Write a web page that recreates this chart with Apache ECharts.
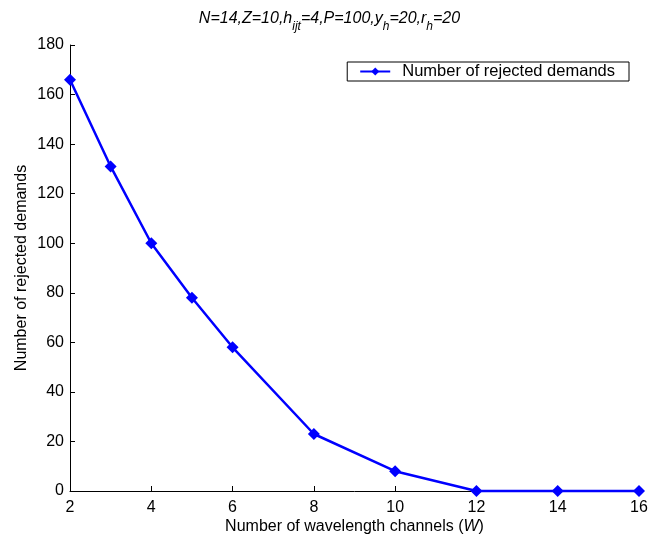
<!DOCTYPE html>
<html style="height: 100%">
<head>
<meta charset="utf-8">
</head>
<body style="height: 100%; margin: 0; background: #fff">
<div id="container" style="height: 100%"></div>
<script type="text/javascript" src="https://cdn.jsdelivr.net/npm/echarts@6/dist/echarts.min.js"></script>
<script type="text/javascript">
var channels = [2, 3, 4, 5, 6, 8, 10, 12, 14, 16];
var rejected = [166, 131, 100, 78, 58, 23, 8, 0, 0, 0];
var seriesName = 'Number of rejected demands';

var myChart = echarts.init(document.getElementById('container'));
var font = 'Liberation Sans, Arial, sans-serif';

var option = {
    animation: false,
    title: {
        text: '{n|N=14,Z=10,h}{s|ijt}{n|=4,P=100,y}{s|h}{n|=20,r}{s|h}{n|=20}',
        left: 'center',
        top: 6,
        textStyle: {
            fontWeight: 'normal',
            rich: {
                n: { fontFamily: font, fontSize: 16, fontStyle: 'italic', fontWeight: 'normal', color: '#000', verticalAlign: 'bottom', padding: [0, 0, 6, 0] },
                s: { fontFamily: font, fontSize: 12, fontStyle: 'italic', fontWeight: 'normal', color: '#000', verticalAlign: 'bottom' }
            }
        }
    },
    legend: {
        right: 30,
        top: 62,
        itemWidth: 30,
        itemHeight: 10,
        itemGap: 10,
        padding: [1, 14, 1, 12],
        borderColor: '#000',
        borderWidth: 1,
        borderRadius: 0,
        backgroundColor: '#fff',
        textStyle: { fontFamily: font, fontSize: 16.5, color: '#000', padding: [0, 0, 0, 7] },
        data: [seriesName]
    },
    grid: { left: 70, right: 20, top: 45, bottom: 48, outerBoundsMode: 'none', containLabel: false },
    xAxis: {
        type: 'value',
        min: 2,
        max: 16,
        interval: 2,
        name: '{a|Number of wavelength channels (}{b|W}{a|)}',
        nameLocation: 'middle',
        nameGap: 28,
        nameMoveOverlap: false,
        nameTextStyle: {
            rich: {
                a: { fontFamily: font, fontSize: 16, color: '#000' },
                b: { fontFamily: font, fontSize: 16, color: '#000', fontStyle: 'italic' }
            }
        },
        axisLine: { lineStyle: { color: '#000', width: 1 } },
        axisTick: { inside: true, length: 5, lineStyle: { color: '#000' } },
        axisLabel: { fontFamily: font, fontSize: 16, color: '#000', margin: 9 },
        splitLine: { show: false }
    },
    yAxis: {
        type: 'value',
        min: 0,
        max: 180,
        interval: 20,
        name: 'Number of rejected demands',
        nameLocation: 'middle',
        nameGap: 40,
        nameMoveOverlap: false,
        nameTextStyle: { fontFamily: font, fontSize: 16, color: '#000' },
        axisLine: { show: true, lineStyle: { color: '#000', width: 1 } },
        axisTick: { show: true, inside: true, length: 5, lineStyle: { color: '#000' } },
        axisLabel: { fontFamily: font, fontSize: 16, color: '#000', margin: 6 },
        splitLine: { show: false }
    },
    series: [{
        name: seriesName,
        type: 'line',
        data: channels.map(function (c, i) { return [c, rejected[i]]; }),
        symbol: 'diamond',
        symbolSize: 12,
        showAllSymbol: true,
        clip: false,
        lineStyle: { color: '#0000ff', width: 2.5 },
        itemStyle: { color: '#0000ff' }
    }]
};

myChart.setOption(option);
</script>
</body>
</html>
